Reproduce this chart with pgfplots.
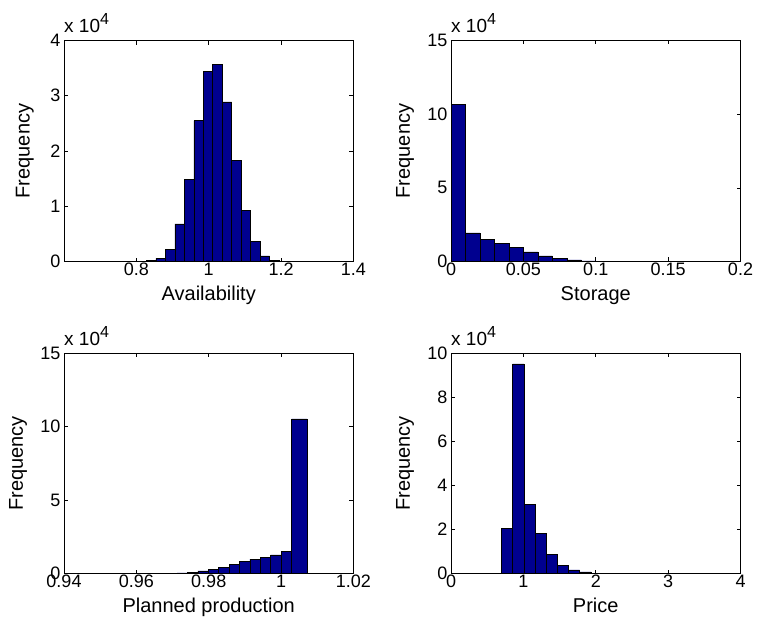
\documentclass[border=0pt]{standalone}
\usepackage{fontspec}
\setmainfont{Liberation Sans}
\usepackage{pgfplots}
\pgfplotsset{compat=1.18}

\definecolor{barblue}{RGB}{0,0,143}

\pgfplotsset{
  histpanel/.style={
    scale only axis,
    width=289.5pt,
    anchor=south west,
    axis line style={line width=0.6pt},
    tick align=inside,
    tick pos=both,
    major tick length=4pt,
    tick style={line width=0.6pt, black},
    scaled ticks=false,
    /pgf/number format/assume math mode=true,
    tick label style={font=\fontsize{18}{20}\selectfont},
    xticklabel style={inner sep=1.5pt},
    label style={font=\fontsize{20}{22}\selectfont, inner sep=0pt},
    ylabel={Frequency},
    ymin=0,
    xlabel style={at={(axis description cs:0.5,0)},anchor=base,yshift=-38.5pt},
    % exponent of the frequency axis, set above its top left corner
    after end axis/.code={
      \node[anchor=base west, inner sep=0pt, yshift=8pt,
            font=\fontsize{19}{21}\selectfont]
        at (rel axis cs:0,1) {x 10\raisebox{8pt}{\fontsize{16}{16}\selectfont 4}};
    },
  },
  histbar/.style={ybar interval, fill=barblue, draw=black, line width=0.5pt},
}

\begin{document}
\begin{tikzpicture}
\useasboundingbox (0,0) rectangle (757pt,630pt);

% Availability
\begin{axis}[histpanel, at={(64pt,368.5pt)}, height=221pt,
  xmin=0.6, xmax=1.4, ymax=40000,
  xtick={0.8,1,1.2,1.4}, xticklabels={0.8,1,1.2,1.4},
  ytick={0,10000,20000,30000,40000}, yticklabels={0,1,2,3,4},
  xlabel={Availability},
  ylabel style={at={(axis description cs:-0.135,0.5)},anchor=center}]
\addplot[histbar] coordinates {
  (0.7753,30) (0.8015,90) (0.8277,200) (0.8539,550) (0.8801,2200)
  (0.9062,6800) (0.9324,14800) (0.9586,25500) (0.9848,34400)
  (1.0110,35700) (1.0372,28900) (1.0634,18300) (1.0895,9200)
  (1.1157,3600) (1.1419,1000) (1.1681,200) (1.1943,50) (1.2205,15)
  (1.2467,0)};
\end{axis}

% Storage
\begin{axis}[histpanel, at={(451pt,368.5pt)}, height=221pt,
  xmin=0, xmax=0.2, ymax=150000,
  xtick={0,0.05,0.1,0.15,0.2}, xticklabels={0,0.05,0.1,0.15,0.2},
  ytick={0,50000,100000,150000}, yticklabels={0,5,10,15},
  xlabel={Storage},
  ylabel style={at={(axis description cs:-0.159,0.5)},anchor=center}]
\addplot[histbar] coordinates {
  (0,106500) (0.01,19500) (0.02,15200) (0.03,12500) (0.04,9500)
  (0.05,6600) (0.06,3900) (0.07,2300) (0.08,1100) (0.09,450)
  (0.10,200) (0.11,80) (0.12,30) (0.13,10) (0.14,5) (0.15,2)
  (0.16,1) (0.17,1) (0.18,0) (0.19,1) (0.20,0)};
\end{axis}

% Planned production
\begin{axis}[histpanel, at={(64pt,56.3pt)}, height=220.4pt,
  xmin=0.94, xmax=1.02, ymax=150000,
  xtick={0.94,0.96,0.98,1,1.02}, xticklabels={0.94,0.96,0.98,1,1.02},
  ytick={0,50000,100000,150000}, yticklabels={0,5,10,15},
  xlabel={Planned production},
  ylabel style={at={(axis description cs:-0.159,0.5)},anchor=center}]
\addplot[histbar] coordinates {
  (0.95113,5) (0.95400,10) (0.95688,20) (0.95975,40) (0.96263,70)
  (0.96550,120) (0.96838,250) (0.97125,500) (0.97413,1100)
  (0.97700,2000) (0.97988,3000) (0.98275,4500) (0.98563,6100)
  (0.98850,8400) (0.99138,10000) (0.99425,11300) (0.99713,12900)
  (1.00000,15200) (1.00288,105300) (1.00719,0)};
\end{axis}

% Price
\begin{axis}[histpanel, at={(451pt,56.3pt)}, height=220.4pt,
  xmin=0, xmax=4, ymax=100000,
  xtick={0,1,2,3,4}, xticklabels={0,1,2,3,4},
  ytick={0,20000,40000,60000,80000,100000}, yticklabels={0,2,4,6,8,10},
  xlabel={Price},
  ylabel style={at={(axis description cs:-0.159,0.5)},anchor=center}]
\addplot[histbar] coordinates {
  (0.6970,20600) (0.8513,95200) (1.0056,31600) (1.1599,18300)
  (1.3142,8900) (1.4685,3900) (1.6228,1700) (1.7771,800)
  (1.9314,300) (2.0857,200) (2.2400,100) (2.3943,60) (2.5486,40)
  (2.7029,20) (2.8572,10) (3.0115,8) (3.1658,5) (3.3201,3)
  (3.4744,2) (3.6287,0)};
\end{axis}
\end{tikzpicture}
\end{document}
